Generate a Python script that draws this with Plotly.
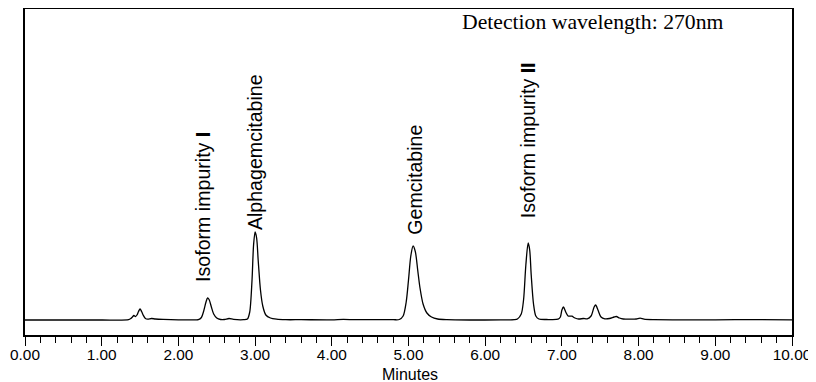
import plotly.graph_objects as go

# Chromatogram trace (time in minutes, signal in arbitrary units)
time_min = [
    0.00, 0.50, 1.00, 1.35, 1.38, 1.40, 1.42, 1.44, 1.46, 1.48, 1.50, 1.52, 1.54, 1.57, 1.60, 1.65, 1.70, 1.80, 2.00, 2.20,
    2.26, 2.30, 2.33, 2.36, 2.38, 2.40, 2.43, 2.46, 2.50, 2.55, 2.60, 2.66, 2.72, 2.85,
    2.90, 2.93, 2.96, 2.98, 3.00, 3.02, 3.04, 3.07, 3.10, 3.14, 3.20, 3.28, 3.40,
    3.60, 4.00, 4.15, 4.30, 4.50, 4.80,
    4.88, 4.93, 4.97, 5.00, 5.03, 5.06, 5.09, 5.12, 5.15, 5.19, 5.24, 5.30, 5.38, 5.50,
    5.80, 6.20, 6.38,
    6.42, 6.47, 6.50, 6.53, 6.56, 6.58, 6.60, 6.63, 6.66, 6.70, 6.80, 6.95,
    6.98, 7.00, 7.02, 7.05, 7.08, 7.13, 7.17, 7.22, 7.28, 7.33, 7.38, 7.42, 7.44, 7.47, 7.51, 7.56,
    7.62, 7.68, 7.71, 7.75, 7.80, 7.90, 7.97, 8.02, 8.07, 8.20, 8.60, 9.00, 9.50, 10.00,
]
signal = [
    0.0, 0.0, 0.0, 0.3, 1.5, 3.0, 4.5, 3.5, 5.0, 8.5, 11.0, 8.5, 5.0, 1.5, 0.8, 1.5, 1.0, 0.6, 0.2, 0.2,
    0.3, 2.5, 9.0, 18.0, 22.0, 20.5, 13.0, 6.0, 2.0, 0.5, 0.5, 1.5, 0.6, 0.3,
    1.0, 8.0, 40.0, 75.0, 88.0, 82.0, 60.0, 30.0, 14.0, 5.0, 2.0, 0.8, 0.3,
    0.3, 0.2, 0.6, 0.3, 0.3, 0.3,
    0.5, 4.0, 18.0, 40.0, 64.0, 74.0, 68.0, 50.0, 32.0, 16.0, 7.0, 3.0, 1.0, 0.3,
    0.0, 0.1, 0.3,
    1.0, 6.0, 20.0, 55.0, 77.0, 70.0, 45.0, 16.0, 4.0, 1.0, 0.5, 0.8,
    3.0, 10.0, 13.0, 8.0, 4.0, 3.8, 2.0, 1.0, 1.5, 1.2, 4.0, 13.0, 15.0, 10.0, 3.0, 1.2,
    1.5, 3.0, 3.5, 2.0, 1.0, 0.8, 1.0, 1.8, 0.8, 0.3, 0.2, 0.2, 0.4, 0.2,
]

# Peak labels
peak_labels = ["Isoform impurity <b>I</b>", "Alphagemcitabine", "Gemcitabine", "Isoform impurity <b>II</b>"]
label_x = [2.32, 3.00, 5.08, 6.56]
label_y = [36, 88, 83, 100]

tick_vals = [0, 1, 2, 3, 4, 5, 6, 7, 8, 9, 10]
tick_text = ["0.00", "1.00", "2.00", "3.00", "4.00", "5.00", "6.00", "7.00", "8.00", "9.00", "10.00"]

# The page body has an 8px default margin, so the figure is sized and offset to compensate
OFF = 8
W, H = 816 - OFF, 382 - OFF
ML, MR, MT, MB = 25 - OFF, 24, 9 - OFF, 47
pw, ph = W - ML - MR, H - MT - MB
plot_bottom_page = 335


def px_to_paper_x(px):
    return (px - OFF - ML) / pw


def px_to_paper_y(py):
    return (plot_bottom_page - py) / ph


fig = go.Figure()
fig.add_trace(go.Scatter(
    x=time_min, y=signal, mode="lines",
    line=dict(color="black", width=1.3, shape="spline", smoothing=0.8),
    showlegend=False, hoverinfo="skip",
))

for txt, lx, ly in zip(peak_labels, label_x, label_y):
    fig.add_annotation(
        x=lx, y=ly, xref="x", yref="y", text=txt, textangle=-90,
        showarrow=False, xanchor="center", yanchor="bottom",
        font=dict(family="Liberation Sans, Arial", size=19.6, color="black"),
    )

fig.add_annotation(
    x=px_to_paper_x(593), y=px_to_paper_y(22), xref="paper", yref="paper",
    text="Detection wavelength: 270nm", showarrow=False,
    xanchor="center", yanchor="middle",
    font=dict(family="Liberation Serif, Times New Roman", size=21.7, color="black"),
)

fig.add_annotation(
    x=px_to_paper_x(410), y=px_to_paper_y(374), xref="paper", yref="paper",
    text="Minutes", showarrow=False, xanchor="center", yanchor="middle",
    font=dict(family="Liberation Sans, Arial", size=16, color="black"),
)

fig.update_layout(
    width=W, height=H,
    margin=dict(l=ML, r=MR, t=MT, b=MB, autoexpand=False),
    paper_bgcolor="white", plot_bgcolor="white",
    font=dict(family="Liberation Sans, Arial", color="black"),
)

fig.update_xaxes(
    range=[0, 10], tickvals=tick_vals, ticktext=tick_text, automargin=False,
    showline=True, linecolor="black", linewidth=1.5, mirror=True,
    ticks="outside", ticklen=9, tickwidth=1.2, tickcolor="black",
    minor=dict(dtick=0.2, tick0=0, ticks="outside", ticklen=6, tickwidth=1.2, tickcolor="black"),
    showgrid=False, zeroline=False, ticklabelstandoff=-4,
    tickfont=dict(family="Liberation Sans, Arial", size=15.4, color="black"),
)
fig.update_yaxes(
    range=[-15, 311], showticklabels=False, ticks="", automargin=False,
    showline=True, linecolor="black", linewidth=1.5, mirror=True,
    showgrid=False, zeroline=False,
)

fig.write_html("out.html")
